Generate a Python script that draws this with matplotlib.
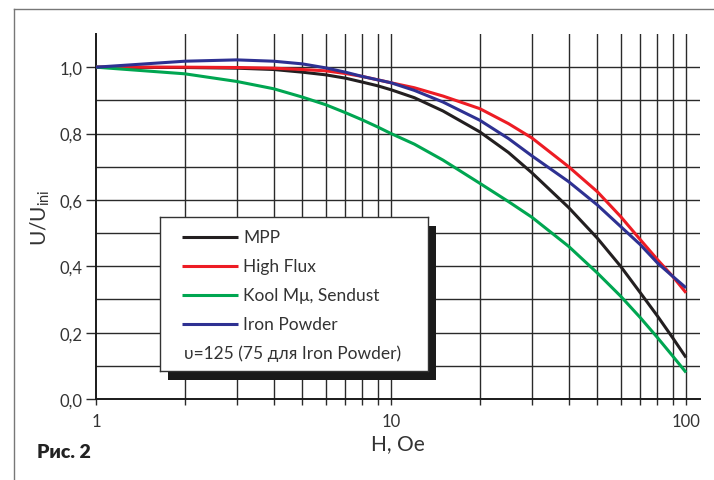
import matplotlib
matplotlib.use('Agg')
import matplotlib.pyplot as plt
from matplotlib.lines import Line2D
from matplotlib.ticker import FixedLocator, FixedFormatter, NullFormatter

plt.rcParams['font.family'] = ['Lato', 'DejaVu Sans']
plt.rcParams['mathtext.default'] = 'regular'

# data
H = [1, 2, 3, 4, 5, 6, 7, 8, 9, 10, 12, 15, 20, 25, 30, 40, 50, 60, 70, 80, 90, 100]
mpp = [1.0, 0.999, 0.997, 0.993, 0.985, 0.977, 0.967, 0.955, 0.944, 0.932,
       0.908, 0.868, 0.805, 0.743, 0.682, 0.577, 0.485, 0.40, 0.32, 0.25, 0.185, 0.125]
high_flux = [1.0, 1.0, 0.999, 0.997, 0.993, 0.989, 0.981, 0.972, 0.962, 0.953,
             0.938, 0.913, 0.875, 0.83, 0.787, 0.70, 0.625, 0.55, 0.48, 0.42, 0.37, 0.32]
kool_mu = [1.0, 0.98, 0.957, 0.935, 0.91, 0.887, 0.863, 0.841, 0.82, 0.80,
           0.768, 0.72, 0.65, 0.595, 0.548, 0.46, 0.38, 0.31, 0.245, 0.185, 0.13, 0.08]
iron_powder = [1.0, 1.018, 1.022, 1.018, 1.01, 0.998, 0.985, 0.972, 0.962, 0.953,
               0.93, 0.895, 0.84, 0.785, 0.733, 0.655, 0.585, 0.52, 0.465, 0.41, 0.37, 0.335]

series = [
    ('MPP', mpp, '#231f20'),
    ('High Flux', high_flux, '#ed1c24'),
    ('Kool M\u03bc, Sendust', kool_mu, '#00a651'),
    ('Iron Powder', iron_powder, '#2e3192'),
]
note = '\u03c5=125 (75 \u0434\u043b\u044f Iron Powder)'

y_ticks = [0.0, 0.2, 0.4, 0.6, 0.8, 1.0]
y_labels = ['0,0', '0,2', '0,4', '0,6', '0,8', '1,0']
x_ticks = [1, 10, 100]
x_labels = ['1', '10', '100']

W, Hpx = 714, 481
TXT = '#333333'
GRID = '#2a2a2a'

fig = plt.figure(figsize=(W / 100, Hpx / 100), dpi=100)
ax = fig.add_axes([96 / W, 1 - 400 / Hpx, (700 - 96) / W, (400 - 35) / Hpx])

ax.set_xscale('log')
ax.set_xlim(1, 111.5)
ax.set_ylim(0, 1.1)

# grid
for gx in [2, 3, 4, 5, 6, 7, 8, 9, 10, 20, 30, 40, 50, 60, 70, 80, 90, 100]:
    ax.axvline(gx, color=GRID, lw=1.0, zorder=1)
for gy in [0.1, 0.2, 0.3, 0.4, 0.5, 0.6, 0.7, 0.8, 0.9, 1.0]:
    ax.axhline(gy, color=GRID, lw=1.0, zorder=1)

for name, vals, col in series:
    ax.plot(H, vals, color=col, lw=2.2, zorder=3, solid_capstyle='butt',
            solid_joinstyle='round')

for s in ['top', 'right']:
    ax.spines[s].set_visible(False)
for s in ['left', 'bottom']:
    ax.spines[s].set_linewidth(1.4)
    ax.spines[s].set_color('#1a1a1a')

ax.yaxis.set_major_locator(FixedLocator(y_ticks))
ax.yaxis.set_major_formatter(FixedFormatter(y_labels))
ax.xaxis.set_major_locator(FixedLocator(x_ticks))
ax.xaxis.set_major_formatter(FixedFormatter(x_labels))
ax.xaxis.set_minor_formatter(NullFormatter())
ax.tick_params(axis='y', direction='out', length=7, width=1.0, color=GRID,
               labelsize=12, labelcolor=TXT, pad=3)
ax.tick_params(axis='x', which='both', direction='out', length=4, width=1.0,
               color=GRID, labelsize=12, labelcolor=TXT, pad=6)

ax.set_xlabel('H, Oe', fontsize=15, color=TXT, labelpad=3)
ax.set_ylabel('U/U$_{ini}$', fontsize=15, color=TXT, labelpad=5)

# legend box with hard shadow
shadow = fig.add_axes([168 / W, 1 - 381 / Hpx, 268 / W, 154 / Hpx])
shadow.set_facecolor('#1a1a1a')
shadow.set_xticks([])
shadow.set_yticks([])
for sp in shadow.spines.values():
    sp.set_visible(False)

leg = fig.add_axes([160 / W, 1 - 372 / Hpx, 268 / W, 154 / Hpx])
leg.set_xlim(160, 428)
leg.set_ylim(372, 218)
leg.set_xticks([])
leg.set_yticks([])
for sp in leg.spines.values():
    sp.set_linewidth(1.0)
    sp.set_color('#333333')

rows = [238, 267, 296, 325]
for (name, vals, col), ry in zip(series, rows):
    leg.plot([182, 238], [ry, ry], color=col, lw=2.2, solid_capstyle='butt')
    leg.text(243, ry, name, fontsize=12.5, color=TXT, va='center', ha='left')
leg.text(184, 354, note, fontsize=12.5, color=TXT, va='center', ha='left')

# outer frame and caption
fig.add_artist(Line2D([14 / W, 14 / W], [0, 1 - 10 / Hpx], color='#777777', lw=1.0))
fig.add_artist(Line2D([14 / W, 1], [1 - 10 / Hpx, 1 - 10 / Hpx], color='#777777', lw=1.0))
fig.text(37 / W, 1 - 452 / Hpx, '\u0420\u0438\u0441. 2', fontsize=14, fontweight='heavy',
         color='#222222', va='center', ha='left')

fig.savefig('out.png', dpi=100)
